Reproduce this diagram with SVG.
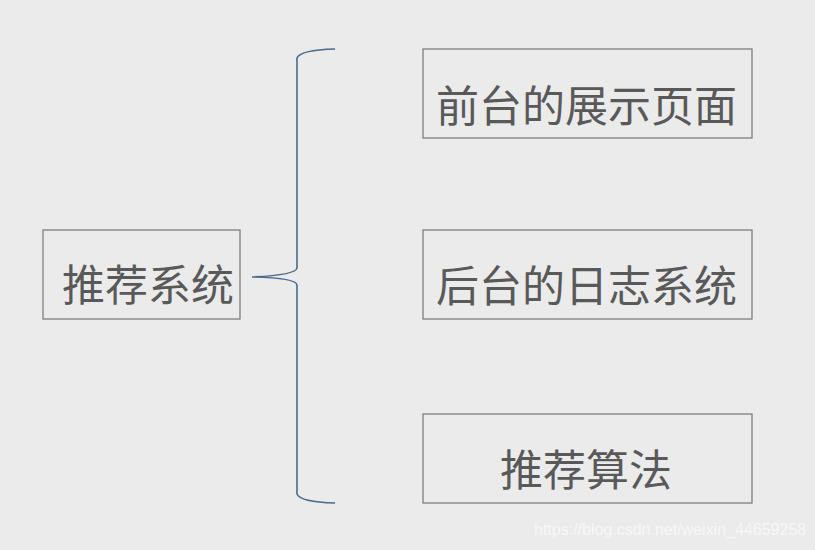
<svg xmlns="http://www.w3.org/2000/svg" width="815" height="550" viewBox="0 0 815 550">
<style>
.box{fill:#ebebeb;stroke:#7f7f7f;stroke-width:1.3}
.t{font-family:"Liberation Sans","Noto Sans CJK SC",sans-serif;font-size:43px;fill:#595959}
.wm{font-family:"Liberation Sans",Arial,sans-serif;font-size:16px;fill:#f7f7f7}
.brace{fill:none;stroke:#4a6a8a;stroke-width:1.6}
</style>
<rect width="815" height="550" fill="#ebebeb"/>
<g id="connectors">
<path class="brace" d="M335,49 Q300,50 297,58 L297,268 Q296,275 252,277 Q296,278 297,285 L297,494 Q300,502 335,503"/>
</g>
<g id="n-root">
<rect class="box" x="43" y="230" width="197" height="89"/>
<text class="t" x="62" y="301">推荐系统</text>
</g>
<g id="n-front">
<rect class="box" x="423" y="49" width="329" height="89"/>
<text class="t" x="436" y="122">前台的展示页面</text>
</g>
<g id="n-back">
<rect class="box" x="423" y="230" width="329" height="89"/>
<text class="t" x="436" y="302">后台的日志系统</text>
</g>
<g id="n-algo">
<rect class="box" x="423" y="414" width="329" height="89"/>
<text class="t" x="500" y="486">推荐算法</text>
</g>
<text class="wm" x="534" y="535">https://blog.csdn.net/weixin_44659258</text>
</svg>
